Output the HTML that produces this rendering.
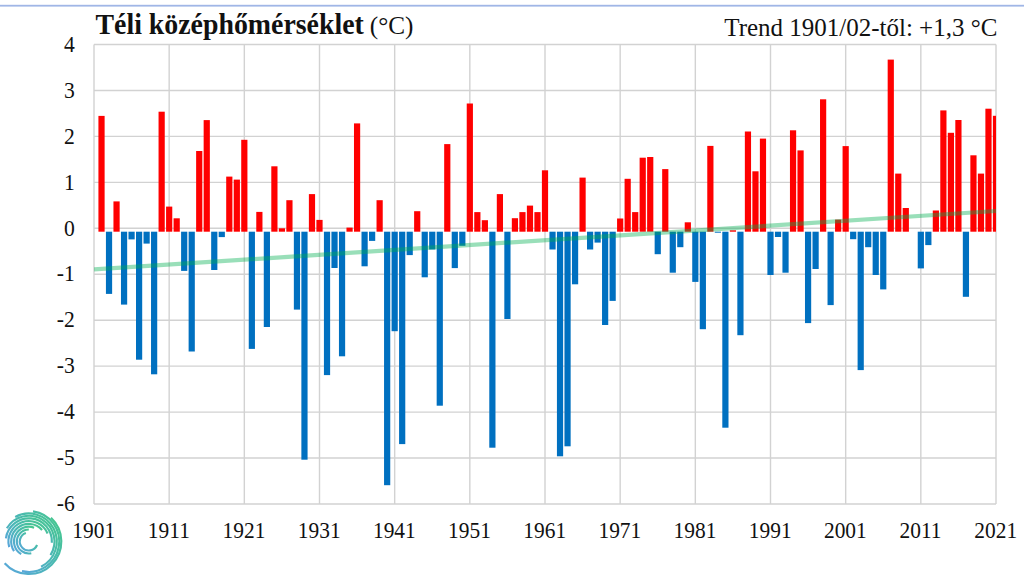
<!DOCTYPE html>
<html><head><meta charset="utf-8"><style>
html,body{margin:0;padding:0;background:#fff;}
body{width:1024px;height:576px;overflow:hidden;position:relative;}
svg{position:absolute;left:0;top:0;}
.t{font-family:"Liberation Serif",serif;fill:#111;}
</style></head><body>
<svg width="1024" height="576" viewBox="0 0 1024 576">
<defs>
<linearGradient id="lg" x1="0" y1="1" x2="1" y2="0">
<stop offset="0" stop-color="#5aa6dc"/><stop offset="0.5" stop-color="#4bb8b4"/><stop offset="1" stop-color="#45c88a"/>
</linearGradient>
<clipPath id="pc"><rect x="94.0" y="44.5" width="902.0" height="459.5"/></clipPath>
</defs>
<rect x="0" y="4.8" width="1024" height="1.8" fill="#a0b6e6"/>
<g stroke="#d2d2d2" stroke-width="1.4" fill="none">
<line x1="94.0" y1="44.50" x2="996.0" y2="44.50" />
<line x1="94.0" y1="90.45" x2="996.0" y2="90.45" />
<line x1="94.0" y1="136.40" x2="996.0" y2="136.40" />
<line x1="94.0" y1="182.35" x2="996.0" y2="182.35" />
<line x1="94.0" y1="228.30" x2="996.0" y2="228.30" />
<line x1="94.0" y1="274.25" x2="996.0" y2="274.25" />
<line x1="94.0" y1="320.20" x2="996.0" y2="320.20" />
<line x1="94.0" y1="366.15" x2="996.0" y2="366.15" />
<line x1="94.0" y1="412.10" x2="996.0" y2="412.10" />
<line x1="94.0" y1="458.05" x2="996.0" y2="458.05" />
<line x1="94.0" y1="504.00" x2="996.0" y2="504.00" />
<line x1="94.00" y1="44.5" x2="94.00" y2="504.0" />
<line x1="169.17" y1="44.5" x2="169.17" y2="504.0" />
<line x1="244.33" y1="44.5" x2="244.33" y2="504.0" />
<line x1="319.50" y1="44.5" x2="319.50" y2="504.0" />
<line x1="394.67" y1="44.5" x2="394.67" y2="504.0" />
<line x1="469.83" y1="44.5" x2="469.83" y2="504.0" />
<line x1="545.00" y1="44.5" x2="545.00" y2="504.0" />
<line x1="620.17" y1="44.5" x2="620.17" y2="504.0" />
<line x1="695.33" y1="44.5" x2="695.33" y2="504.0" />
<line x1="770.50" y1="44.5" x2="770.50" y2="504.0" />
<line x1="845.67" y1="44.5" x2="845.67" y2="504.0" />
<line x1="920.83" y1="44.5" x2="920.83" y2="504.0" />
<line x1="996.00" y1="44.5" x2="996.00" y2="504.0" />
</g>
<g clip-path="url(#pc)">
<rect x="98.42" y="115.90" width="6.20" height="115.80" fill="#ff0000"/>
<rect x="105.93" y="231.70" width="6.20" height="62.20" fill="#0070c0"/>
<rect x="113.45" y="201.40" width="6.20" height="30.30" fill="#ff0000"/>
<rect x="120.97" y="231.70" width="6.20" height="72.90" fill="#0070c0"/>
<rect x="128.48" y="231.70" width="6.20" height="7.70" fill="#0070c0"/>
<rect x="136.00" y="231.70" width="6.20" height="128.00" fill="#0070c0"/>
<rect x="143.52" y="231.70" width="6.20" height="11.90" fill="#0070c0"/>
<rect x="151.03" y="231.70" width="6.20" height="142.60" fill="#0070c0"/>
<rect x="158.55" y="111.70" width="6.20" height="120.00" fill="#ff0000"/>
<rect x="166.07" y="206.60" width="6.20" height="25.10" fill="#ff0000"/>
<rect x="173.58" y="218.30" width="6.20" height="13.40" fill="#ff0000"/>
<rect x="181.10" y="231.70" width="6.20" height="39.20" fill="#0070c0"/>
<rect x="188.62" y="231.70" width="6.20" height="119.80" fill="#0070c0"/>
<rect x="196.13" y="151.00" width="6.20" height="80.70" fill="#ff0000"/>
<rect x="203.65" y="120.10" width="6.20" height="111.60" fill="#ff0000"/>
<rect x="211.17" y="231.70" width="6.20" height="38.30" fill="#0070c0"/>
<rect x="218.68" y="231.70" width="6.20" height="5.40" fill="#0070c0"/>
<rect x="226.20" y="176.60" width="6.20" height="55.10" fill="#ff0000"/>
<rect x="233.72" y="179.60" width="6.20" height="52.10" fill="#ff0000"/>
<rect x="241.23" y="139.80" width="6.20" height="91.90" fill="#ff0000"/>
<rect x="248.75" y="231.70" width="6.20" height="117.20" fill="#0070c0"/>
<rect x="256.27" y="211.90" width="6.20" height="19.80" fill="#ff0000"/>
<rect x="263.78" y="231.70" width="6.20" height="95.30" fill="#0070c0"/>
<rect x="271.30" y="166.30" width="6.20" height="65.40" fill="#ff0000"/>
<rect x="278.82" y="228.30" width="6.20" height="3.40" fill="#ff0000"/>
<rect x="286.33" y="200.20" width="6.20" height="31.50" fill="#ff0000"/>
<rect x="293.85" y="231.70" width="6.20" height="77.90" fill="#0070c0"/>
<rect x="301.37" y="231.70" width="6.20" height="228.00" fill="#0070c0"/>
<rect x="308.88" y="194.10" width="6.20" height="37.60" fill="#ff0000"/>
<rect x="316.40" y="219.90" width="6.20" height="11.80" fill="#ff0000"/>
<rect x="323.92" y="231.70" width="6.20" height="143.40" fill="#0070c0"/>
<rect x="331.43" y="231.70" width="6.20" height="36.30" fill="#0070c0"/>
<rect x="338.95" y="231.70" width="6.20" height="124.60" fill="#0070c0"/>
<rect x="346.47" y="227.60" width="6.20" height="4.10" fill="#ff0000"/>
<rect x="353.98" y="123.40" width="6.20" height="108.30" fill="#ff0000"/>
<rect x="361.50" y="231.70" width="6.20" height="34.60" fill="#0070c0"/>
<rect x="369.02" y="231.70" width="6.20" height="9.20" fill="#0070c0"/>
<rect x="376.53" y="200.20" width="6.20" height="31.50" fill="#ff0000"/>
<rect x="384.05" y="231.70" width="6.20" height="253.50" fill="#0070c0"/>
<rect x="391.57" y="231.70" width="6.20" height="99.50" fill="#0070c0"/>
<rect x="399.08" y="231.70" width="6.20" height="212.40" fill="#0070c0"/>
<rect x="406.60" y="231.70" width="6.20" height="23.40" fill="#0070c0"/>
<rect x="414.12" y="211.20" width="6.20" height="20.50" fill="#ff0000"/>
<rect x="421.63" y="231.70" width="6.20" height="45.60" fill="#0070c0"/>
<rect x="429.15" y="231.70" width="6.20" height="17.80" fill="#0070c0"/>
<rect x="436.67" y="231.70" width="6.20" height="174.00" fill="#0070c0"/>
<rect x="444.18" y="144.10" width="6.20" height="87.60" fill="#ff0000"/>
<rect x="451.70" y="231.70" width="6.20" height="36.40" fill="#0070c0"/>
<rect x="459.22" y="231.70" width="6.20" height="14.10" fill="#0070c0"/>
<rect x="466.73" y="103.50" width="6.20" height="128.20" fill="#ff0000"/>
<rect x="474.25" y="212.10" width="6.20" height="19.60" fill="#ff0000"/>
<rect x="481.77" y="220.20" width="6.20" height="11.50" fill="#ff0000"/>
<rect x="489.28" y="231.70" width="6.20" height="216.00" fill="#0070c0"/>
<rect x="496.80" y="194.10" width="6.20" height="37.60" fill="#ff0000"/>
<rect x="504.32" y="231.70" width="6.20" height="87.30" fill="#0070c0"/>
<rect x="511.83" y="218.20" width="6.20" height="13.50" fill="#ff0000"/>
<rect x="519.35" y="212.10" width="6.20" height="19.60" fill="#ff0000"/>
<rect x="526.87" y="205.60" width="6.20" height="26.10" fill="#ff0000"/>
<rect x="534.38" y="212.10" width="6.20" height="19.60" fill="#ff0000"/>
<rect x="541.90" y="170.30" width="6.20" height="61.40" fill="#ff0000"/>
<rect x="549.42" y="231.70" width="6.20" height="17.80" fill="#0070c0"/>
<rect x="556.93" y="231.70" width="6.20" height="224.60" fill="#0070c0"/>
<rect x="564.45" y="231.70" width="6.20" height="214.60" fill="#0070c0"/>
<rect x="571.97" y="231.70" width="6.20" height="52.60" fill="#0070c0"/>
<rect x="579.48" y="177.60" width="6.20" height="54.10" fill="#ff0000"/>
<rect x="587.00" y="231.70" width="6.20" height="17.80" fill="#0070c0"/>
<rect x="594.52" y="231.70" width="6.20" height="10.90" fill="#0070c0"/>
<rect x="602.03" y="231.70" width="6.20" height="93.30" fill="#0070c0"/>
<rect x="609.55" y="231.70" width="6.20" height="69.20" fill="#0070c0"/>
<rect x="617.07" y="218.50" width="6.20" height="13.20" fill="#ff0000"/>
<rect x="624.58" y="178.80" width="6.20" height="52.90" fill="#ff0000"/>
<rect x="632.10" y="212.10" width="6.20" height="19.60" fill="#ff0000"/>
<rect x="639.62" y="157.70" width="6.20" height="74.00" fill="#ff0000"/>
<rect x="647.13" y="157.00" width="6.20" height="74.70" fill="#ff0000"/>
<rect x="654.65" y="231.70" width="6.20" height="22.50" fill="#0070c0"/>
<rect x="662.17" y="169.10" width="6.20" height="62.60" fill="#ff0000"/>
<rect x="669.68" y="231.70" width="6.20" height="41.00" fill="#0070c0"/>
<rect x="677.20" y="231.70" width="6.20" height="15.50" fill="#0070c0"/>
<rect x="684.72" y="222.30" width="6.20" height="9.40" fill="#ff0000"/>
<rect x="692.23" y="231.70" width="6.20" height="50.20" fill="#0070c0"/>
<rect x="699.75" y="231.70" width="6.20" height="97.50" fill="#0070c0"/>
<rect x="707.27" y="145.90" width="6.20" height="85.80" fill="#ff0000"/>
<rect x="714.78" y="231.70" width="6.20" height="1.00" fill="#0070c0"/>
<rect x="722.30" y="231.70" width="6.20" height="196.00" fill="#0070c0"/>
<rect x="729.82" y="230.30" width="6.20" height="1.40" fill="#ff0000"/>
<rect x="737.33" y="231.70" width="6.20" height="103.50" fill="#0070c0"/>
<rect x="744.85" y="131.50" width="6.20" height="100.20" fill="#ff0000"/>
<rect x="752.37" y="171.30" width="6.20" height="60.40" fill="#ff0000"/>
<rect x="759.88" y="138.60" width="6.20" height="93.10" fill="#ff0000"/>
<rect x="767.40" y="231.70" width="6.20" height="43.30" fill="#0070c0"/>
<rect x="774.92" y="231.70" width="6.20" height="5.30" fill="#0070c0"/>
<rect x="782.43" y="231.70" width="6.20" height="41.00" fill="#0070c0"/>
<rect x="789.95" y="130.30" width="6.20" height="101.40" fill="#ff0000"/>
<rect x="797.47" y="150.40" width="6.20" height="81.30" fill="#ff0000"/>
<rect x="804.98" y="231.70" width="6.20" height="91.40" fill="#0070c0"/>
<rect x="812.50" y="231.70" width="6.20" height="37.30" fill="#0070c0"/>
<rect x="820.02" y="99.30" width="6.20" height="132.40" fill="#ff0000"/>
<rect x="827.53" y="231.70" width="6.20" height="73.40" fill="#0070c0"/>
<rect x="835.05" y="219.60" width="6.20" height="12.10" fill="#ff0000"/>
<rect x="842.57" y="146.10" width="6.20" height="85.60" fill="#ff0000"/>
<rect x="850.08" y="231.70" width="6.20" height="7.50" fill="#0070c0"/>
<rect x="857.60" y="231.70" width="6.20" height="138.40" fill="#0070c0"/>
<rect x="865.12" y="231.70" width="6.20" height="15.50" fill="#0070c0"/>
<rect x="872.63" y="231.70" width="6.20" height="43.30" fill="#0070c0"/>
<rect x="880.15" y="231.70" width="6.20" height="57.70" fill="#0070c0"/>
<rect x="887.67" y="59.60" width="6.20" height="172.10" fill="#ff0000"/>
<rect x="895.18" y="173.60" width="6.20" height="58.10" fill="#ff0000"/>
<rect x="902.70" y="208.00" width="6.20" height="23.70" fill="#ff0000"/>
<rect x="917.73" y="231.70" width="6.20" height="36.70" fill="#0070c0"/>
<rect x="925.25" y="231.70" width="6.20" height="13.40" fill="#0070c0"/>
<rect x="932.77" y="210.50" width="6.20" height="21.20" fill="#ff0000"/>
<rect x="940.28" y="110.40" width="6.20" height="121.30" fill="#ff0000"/>
<rect x="947.80" y="132.80" width="6.20" height="98.90" fill="#ff0000"/>
<rect x="955.32" y="120.00" width="6.20" height="111.70" fill="#ff0000"/>
<rect x="962.83" y="231.70" width="6.20" height="65.10" fill="#0070c0"/>
<rect x="970.35" y="155.30" width="6.20" height="76.40" fill="#ff0000"/>
<rect x="977.87" y="173.60" width="6.20" height="58.10" fill="#ff0000"/>
<rect x="985.38" y="108.70" width="6.20" height="123.00" fill="#ff0000"/>
<rect x="992.90" y="115.80" width="3.10" height="115.90" fill="#ff0000"/>
<line x1="94.0" y1="269.4" x2="996.0" y2="211" stroke="#00b050" stroke-opacity="0.4" stroke-width="4.2"/>
</g>
<g class="t" font-size="21">
<text transform="translate(74.8,51.70) scale(1.03,1.07)" text-anchor="end">4</text>
<text transform="translate(74.8,97.65) scale(1.03,1.07)" text-anchor="end">3</text>
<text transform="translate(74.8,143.60) scale(1.03,1.07)" text-anchor="end">2</text>
<text transform="translate(74.8,189.55) scale(1.03,1.07)" text-anchor="end">1</text>
<text transform="translate(74.8,235.50) scale(1.03,1.07)" text-anchor="end">0</text>
<text transform="translate(74.8,281.45) scale(1.03,1.07)" text-anchor="end">-1</text>
<text transform="translate(74.8,327.40) scale(1.03,1.07)" text-anchor="end">-2</text>
<text transform="translate(74.8,373.35) scale(1.03,1.07)" text-anchor="end">-3</text>
<text transform="translate(74.8,419.30) scale(1.03,1.07)" text-anchor="end">-4</text>
<text transform="translate(74.8,465.25) scale(1.03,1.07)" text-anchor="end">-5</text>
<text transform="translate(74.8,511.20) scale(1.03,1.07)" text-anchor="end">-6</text>
<text transform="translate(93.70,538.2) scale(1.02,1.07)" text-anchor="middle">1901</text>
<text transform="translate(168.87,538.2) scale(1.02,1.07)" text-anchor="middle">1911</text>
<text transform="translate(244.03,538.2) scale(1.02,1.07)" text-anchor="middle">1921</text>
<text transform="translate(319.20,538.2) scale(1.02,1.07)" text-anchor="middle">1931</text>
<text transform="translate(394.37,538.2) scale(1.02,1.07)" text-anchor="middle">1941</text>
<text transform="translate(469.53,538.2) scale(1.02,1.07)" text-anchor="middle">1951</text>
<text transform="translate(544.70,538.2) scale(1.02,1.07)" text-anchor="middle">1961</text>
<text transform="translate(619.87,538.2) scale(1.02,1.07)" text-anchor="middle">1971</text>
<text transform="translate(695.03,538.2) scale(1.02,1.07)" text-anchor="middle">1981</text>
<text transform="translate(770.20,538.2) scale(1.02,1.07)" text-anchor="middle">1991</text>
<text transform="translate(845.37,538.2) scale(1.02,1.07)" text-anchor="middle">2001</text>
<text transform="translate(920.53,538.2) scale(1.02,1.07)" text-anchor="middle">2011</text>
<text transform="translate(995.70,538.2) scale(1.02,1.07)" text-anchor="middle">2021</text>
</g>
<text class="t" transform="translate(95.5,34.4) scale(0.995,1.07)" font-size="28" font-weight="bold">Téli középhőmérséklet</text>
<text class="t" transform="translate(369.8,34.4) scale(1.03,1.0)" font-size="24.5">(°C)</text>
<text class="t" transform="translate(997.3,35.8) scale(1,1.03)" font-size="25" text-anchor="end">Trend 1901/02-től: +1,3 °C</text>
<g fill="none" stroke="url(#lg)" stroke-width="2.15" stroke-linecap="butt">
<path d="M37.08,545.02 A9.0,9.0 0 1 1 25.87,532.99"/>
<path d="M31.29,553.24 A12.0,12.0 0 1 1 28.80,529.50"/>
<path d="M21.18,554.19 A14.8,14.8 0 0 1 34.10,527.68"/>
<path d="M14.04,551.09 A17.6,17.6 0 0 1 42.08,529.95"/>
<path d="M9.19,547.12 A20.4,20.4 0 0 1 47.58,533.53"/>
<path d="M5.92,538.29 A23.1,23.1 0 0 1 51.87,542.71"/>
<path d="M6.86,528.32 A25.6,25.6 0 1 1 50.51,555.07"/>
<path d="M15.23,517.01 A28.0,28.0 0 1 1 41.07,566.67"/>
<path d="M33.03,511.40 A30.4,30.4 0 1 1 21.96,571.12"/>
<path d="M50.96,517.73 A32.5,32.5 0 1 1 4.65,563.25"/>
</g>
</svg>
</body></html>
